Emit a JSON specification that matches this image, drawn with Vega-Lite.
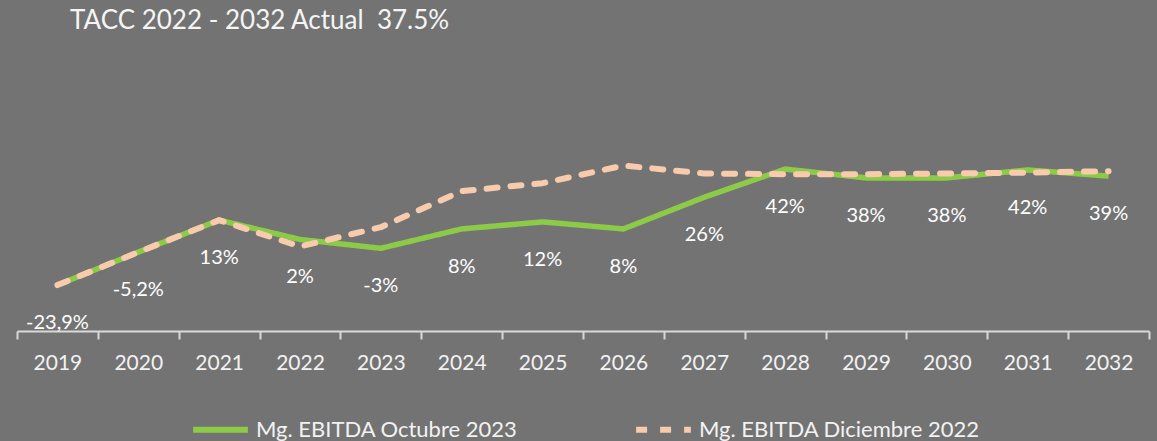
{
  "$schema": "https://vega.github.io/schema/vega-lite/v6.json",
  "autosize": "none",
  "width": 1132,
  "height": 264,
  "padding": {"left": 17, "right": 8, "top": 67, "bottom": 110},
  "background": "#737373",
  "config": {
    "view": {"stroke": null},
    "font": "Lato"
  },
  "title": {
    "text": "TACC 2022 - 2032 Actual\u00a0\u00a037.5%",
    "anchor": "start",
    "frame": "group",
    "dx": 53,
    "offset": 33,
    "font": "Lato",
    "fontSize": 26,
    "fontWeight": "normal",
    "color": "#F5F5F5"
  },
  "data": {
    "values": [
      {"year": "2019", "serie": "Mg. EBITDA Octubre 2023", "value": -23.9, "label": "-23,9%"},
      {"year": "2020", "serie": "Mg. EBITDA Octubre 2023", "value": -5.2, "label": "-5,2%"},
      {"year": "2021", "serie": "Mg. EBITDA Octubre 2023", "value": 13, "label": "13%"},
      {"year": "2022", "serie": "Mg. EBITDA Octubre 2023", "value": 2, "label": "2%"},
      {"year": "2023", "serie": "Mg. EBITDA Octubre 2023", "value": -3, "label": "-3%"},
      {"year": "2024", "serie": "Mg. EBITDA Octubre 2023", "value": 8, "label": "8%"},
      {"year": "2025", "serie": "Mg. EBITDA Octubre 2023", "value": 12, "label": "12%"},
      {"year": "2026", "serie": "Mg. EBITDA Octubre 2023", "value": 8, "label": "8%"},
      {"year": "2027", "serie": "Mg. EBITDA Octubre 2023", "value": 26, "label": "26%"},
      {"year": "2028", "serie": "Mg. EBITDA Octubre 2023", "value": 42, "label": "42%"},
      {"year": "2029", "serie": "Mg. EBITDA Octubre 2023", "value": 37, "label": "38%"},
      {"year": "2030", "serie": "Mg. EBITDA Octubre 2023", "value": 37, "label": "38%"},
      {"year": "2031", "serie": "Mg. EBITDA Octubre 2023", "value": 41.5, "label": "42%"},
      {"year": "2032", "serie": "Mg. EBITDA Octubre 2023", "value": 38, "label": "39%"},
      {"year": "2019", "serie": "Mg. EBITDA Diciembre 2022", "value": -23.9},
      {"year": "2020", "serie": "Mg. EBITDA Diciembre 2022", "value": -5.2},
      {"year": "2021", "serie": "Mg. EBITDA Diciembre 2022", "value": 13},
      {"year": "2022", "serie": "Mg. EBITDA Diciembre 2022", "value": -2},
      {"year": "2023", "serie": "Mg. EBITDA Diciembre 2022", "value": 9},
      {"year": "2024", "serie": "Mg. EBITDA Diciembre 2022", "value": 29.5},
      {"year": "2025", "serie": "Mg. EBITDA Diciembre 2022", "value": 34},
      {"year": "2026", "serie": "Mg. EBITDA Diciembre 2022", "value": 44},
      {"year": "2027", "serie": "Mg. EBITDA Diciembre 2022", "value": 39.5},
      {"year": "2028", "serie": "Mg. EBITDA Diciembre 2022", "value": 39.1},
      {"year": "2029", "serie": "Mg. EBITDA Diciembre 2022", "value": 39.1},
      {"year": "2030", "serie": "Mg. EBITDA Diciembre 2022", "value": 39.5},
      {"year": "2031", "serie": "Mg. EBITDA Diciembre 2022", "value": 40},
      {"year": "2032", "serie": "Mg. EBITDA Diciembre 2022", "value": 40.8}
    ]
  },
  "encoding": {
    "x": {
      "field": "year",
      "type": "ordinal",
      "bandPosition": 0.5,
      "scale": {"type": "band", "paddingInner": 0, "paddingOuter": 0},
      "axis": {
        "title": null,
        "labelAngle": 0,
        "labelFont": "Lato",
        "labelFontSize": 21,
        "labelColor": "#F2F2F2",
        "labelPadding": 13,
        "domainColor": "#D9D9D9",
        "domainWidth": 2,
        "tickColor": "#D9D9D9",
        "tickWidth": 2,
        "tickSize": 8,
        "tickBand": "extent",
        "grid": false
      }
    },
    "y": {
      "field": "value",
      "type": "quantitative",
      "scale": {"domain": [-50, 100], "nice": false, "zero": false},
      "axis": null
    }
  },
  "layer": [
    {
      "transform": [{"filter": "datum.serie === 'Mg. EBITDA Octubre 2023'"}],
      "mark": {"type": "line", "strokeWidth": 5.5, "strokeJoin": "round"},
      "encoding": {
        "color": {
          "field": "serie",
          "type": "nominal",
          "scale": {
            "domain": ["Mg. EBITDA Octubre 2023", "Mg. EBITDA Diciembre 2022"],
            "range": ["#8CCB47", "#F8CBAD"]
          },
          "legend": {
            "title": null,
            "orient": "none",
            "legendX": 173,
            "legendY": 332,
            "direction": "horizontal",
            "labelFont": "Lato",
            "labelFontSize": 22,
            "labelColor": "#F2F2F2",
            "symbolType": "stroke",
            "symbolSize": 3000,
            "symbolStrokeWidth": 6,
            "columnPadding": 106,
            "labelOffset": 5,
            "labelLimit": 400
          }
        },
        "strokeDash": {
          "field": "serie",
          "type": "nominal",
          "scale": {
            "domain": ["Mg. EBITDA Octubre 2023", "Mg. EBITDA Diciembre 2022"],
            "range": [[1, 0], [11, 13]]
          },
          "legend": {
            "title": null,
            "orient": "none",
            "legendX": 173,
            "legendY": 332,
            "direction": "horizontal",
            "labelFont": "Lato",
            "labelFontSize": 22,
            "labelColor": "#F2F2F2",
            "symbolType": "stroke",
            "symbolSize": 3000,
            "symbolStrokeWidth": 6,
            "columnPadding": 106,
            "labelOffset": 5,
            "labelLimit": 400
          }
        }
      }
    },
    {
      "transform": [{"filter": "datum.serie === 'Mg. EBITDA Diciembre 2022'"}],
      "mark": {"type": "line", "strokeWidth": 6, "strokeCap": "round", "strokeJoin": "round"},
      "encoding": {
        "color": {"field": "serie", "type": "nominal"},
        "strokeDash": {"field": "serie", "type": "nominal"}
      }
    },
    {
      "transform": [{"filter": "datum.serie === 'Mg. EBITDA Octubre 2023'"}],
      "mark": {"type": "text", "dy": 38, "font": "Lato", "fontSize": 20, "color": "#FFFFFF"},
      "encoding": {
        "text": {"field": "label", "type": "nominal"}
      }
    }
  ]
}
